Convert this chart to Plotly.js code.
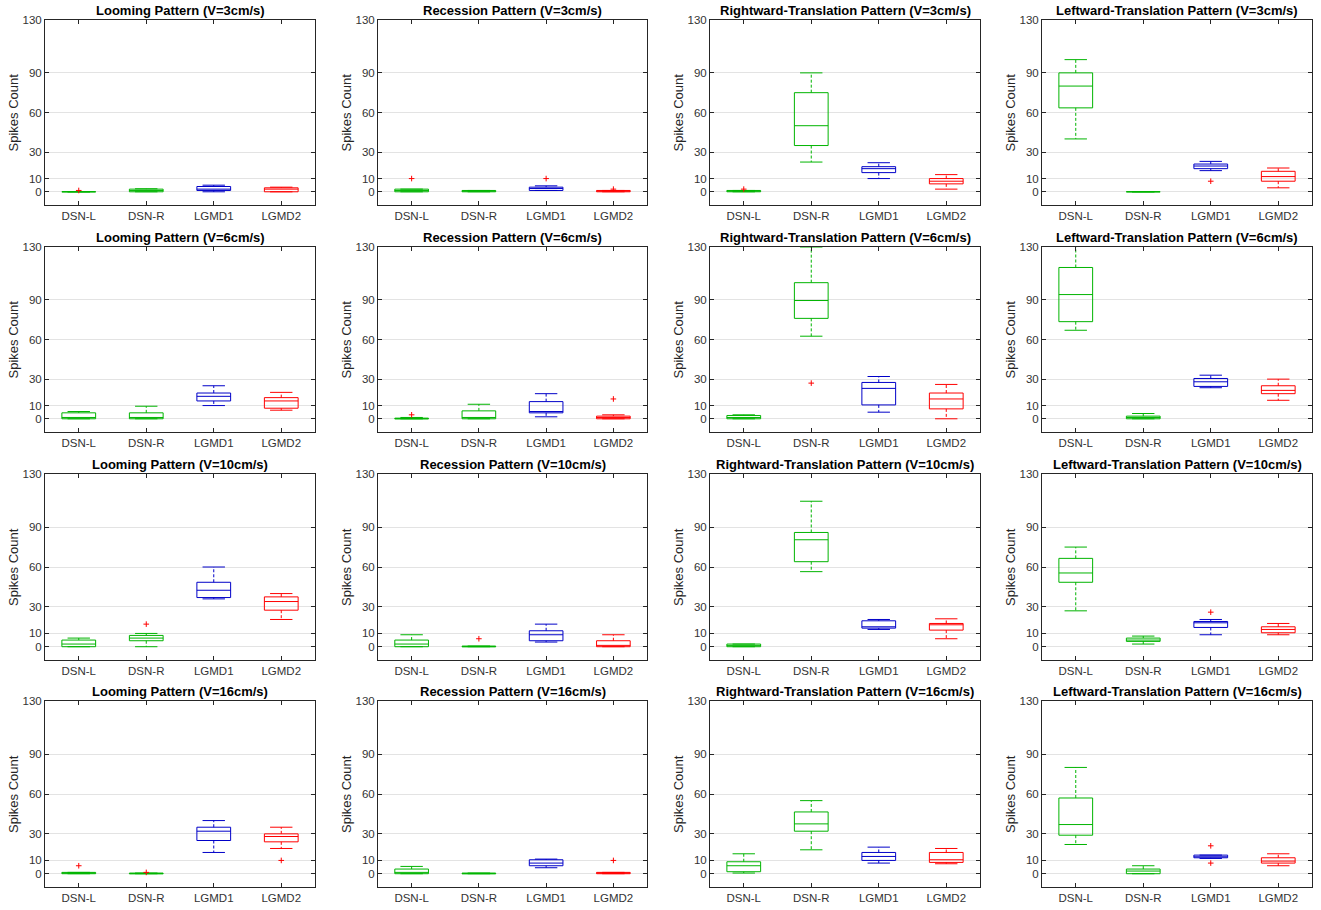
<!DOCTYPE html>
<html>
<head>
<meta charset="utf-8">
<script src="https://cdn.plot.ly/plotly-3.0.1.min.js"></script>
<style>html,body{margin:0;padding:0;background:#fff;}#chart{width:1321px;height:910px;}</style>
</head>
<body>
<div id="chart"></div>
<script>
// ---------------- DATA ----------------
const categories = ['DSN-L', 'DSN-R', 'LGMD1', 'LGMD2'];
const patterns = ['Looming', 'Recession', 'Rightward-Translation', 'Leftward-Translation'];
const speeds = [3, 6, 10, 16];
const yTicks = [0, 10, 30, 60, 90, 130];

// indexed [speed row][pattern column][category]
const lowerWhisker = [
  [[0,0,0,0],       [0,0,1,0],       [0,22.5,10,2],     [40,0,16,3]],
  [[0,0,10,6.5],    [0,0,1.5,0],     [0,62.5,5,0],      [67,0,23.5,14]],
  [[0,0,36,20.5],   [0,0,3.5,0],     [0,56.5,13,6],     [27,2,9,9]],
  [[0,0,16,19],     [0,0,4.5,0],     [0.5,18,8,7.5],    [22,0,11.5,6]]
];
const quartile1 = [
  [[0,0,1,0],       [0,0,1,0],       [0,35,14.5,6],     [63.5,0,17.5,8]],
  [[0,0,13.5,8],    [0,0,4.5,0],     [0,76,10.5,7.5],   [73.5,0,24.5,19]],
  [[0,4.5,37,27.5], [0,0,4.5,0],     [0,64,14,12.5],    [48.5,4,14.5,10.5]],
  [[0,0,25,24],     [0,0,6,0],       [1.5,32,10,8.5],   [29,0,12,8]]
];
const medians = [
  [[0,1,2,2],       [1,0.5,2.5,0.5], [0.5,50,17.5,8],   [80,0,19.5,11.5]],
  [[1,1,17,13.5],   [0,1,5.5,1],     [1,89.5,23,15],    [94,1,28,21.5]],
  [[2,6.5,42.5,34], [2,0,9,1],       [1,80.5,15,16.5],  [55.5,5,18,13]],
  [[0.5,0,32,28],   [1,0,8,0.5],     [6,37.5,13,10.5],  [37,2,12.5,9.5]]
];
const quartile3 = [
  [[0,2,4,3],       [2,1,3.5,1],     [1,75,19,10],      [90,0,21,15.5]],
  [[4.5,4.5,19.5,16],[0.5,6,13,2],   [2.5,103,27.5,19.5],[114.5,2,30.5,25]],
  [[5,8.5,48.5,37.5],[5,0.5,12,4.5], [2,86,19.5,17.5],  [66.5,6.5,19,15]],
  [[1,0.5,35,30],   [3.5,0.5,10.5,1],[9,46.5,16,16],    [57,3.5,14,12]]
];
const upperWhisker = [
  [[0,2.3,5,3.5],   [2,1,4.5,1],     [1,90,22,13],      [100,0,23,18]],
  [[5.5,9.5,25,20], [1,11,19,3],     [3,130,32,26],     [140,4,33,30]],
  [[6.5,10,60,40],  [9,0.5,17,9],    [2,109.5,20.5,21], [75,8,20.5,17.5]],
  [[1,0.5,40,35],   [5.5,0.5,11,1],  [15,55,20,19],     [80,6,14,15]]
];
const outliers = [
  [[[1],[],[],[]],     [[10],[],[10],[2]], [[2],[],[],[]],    [[],[],[8],[]]],
  [[[],[],[],[]],      [[3],[],[],[15]],   [[],[27],[],[]],   [[],[],[],[]]],
  [[[],[17],[],[]],    [[],[6],[],[]],     [[],[],[],[]],     [[],[],[26],[]]],
  [[[6],[1],[],[10]],  [[],[],[],[10]],    [[],[],[],[]],     [[],[],[21,8],[]]]
];

// ---------------- STYLE ----------------
const boxColors = ['#00b400', '#00b400', '#0000c8', '#ff0000'];
const outlierColor = '#ff0000';
const FONT = 'Liberation Sans, Arial, Helvetica, sans-serif';
const colDomains = [[45, 315], [378, 647], [710, 980], [1042, 1312]];
const rowDomains = [[20, 205], [247, 432], [474, 660], [701, 887]];
const W = 1321, H = 910;

const traces = [];
const layout = {
  width: W, height: H,
  margin: {l: 0, r: 0, t: 0, b: 0},
  paper_bgcolor: '#ffffff', plot_bgcolor: '#ffffff',
  showlegend: false,
  boxmode: 'overlay',
  font: {family: FONT, color: '#262626'},
  annotations: []
};

for (let r = 0; r < 4; r++) {
  for (let c = 0; c < 4; c++) {
    const idx = r * 4 + c + 1;
    const xa = 'x' + (idx === 1 ? '' : idx);
    const ya = 'y' + (idx === 1 ? '' : idx);
    const xd = [colDomains[c][0] / W, colDomains[c][1] / W];
    const yd = [1 - rowDomains[r][1] / H, 1 - rowDomains[r][0] / H];

    layout['xaxis' + (idx === 1 ? '' : idx)] = {
      domain: xd, anchor: ya, type: 'category',
      categoryorder: 'array', categoryarray: categories,
      range: [-0.5, 3.5],
      showgrid: false, zeroline: false,
      showline: true, linecolor: '#262626', linewidth: 1, mirror: 'ticks',
      ticks: 'inside', ticklen: 4, tickcolor: '#262626',
      tickfont: {family: FONT, size: 11.5, color: '#333333'},
      fixedrange: true
    };
    layout['yaxis' + (idx === 1 ? '' : idx)] = {
      domain: yd, anchor: xa,
      range: [-10, 130],
      tickvals: yTicks, ticktext: yTicks.map(String),
      showgrid: true, gridcolor: '#e3e3e3', gridwidth: 1,
      zeroline: false,
      showline: true, linecolor: '#262626', linewidth: 1, mirror: 'ticks',
      ticks: 'inside', ticklen: 4, tickcolor: '#262626',
      tickfont: {family: FONT, size: 11.5, color: '#333333'},
      fixedrange: true
    };

    layout.annotations.push({
      xref: 'paper', yref: 'paper',
      x: (xd[0] + xd[1]) / 2, y: yd[1],
      xanchor: 'center', yanchor: 'bottom', yshift: 0,
      showarrow: false,
      text: '<b>' + patterns[c] + ' Pattern (V=' + speeds[r] + 'cm/s)</b>',
      font: {family: FONT, size: 13, color: '#000000'}
    });
    layout.annotations.push({
      xref: 'paper', yref: 'paper',
      x: xd[0], y: (yd[0] + yd[1]) / 2,
      xanchor: 'center', yanchor: 'middle', xshift: -32,
      textangle: -90, showarrow: false,
      text: 'Spikes Count',
      font: {family: FONT, size: 13, color: '#262626'}
    });

    for (let k = 0; k < 4; k++) {
      const cat = categories[k];
      const col = boxColors[k];
      const lo = lowerWhisker[r][c][k], q1 = quartile1[r][c][k], md = medians[r][c][k],
            q3 = quartile3[r][c][k], hi = upperWhisker[r][c][k];
      // dashed whiskers
      traces.push({
        type: 'scatter', mode: 'lines', xaxis: xa, yaxis: ya,
        x: [cat, cat, null, cat, cat], y: [q3, hi, null, q1, lo],
        line: {color: col, width: 1, dash: '3px,2px'},
        hoverinfo: 'skip', showlegend: false
      });
      // box + median
      traces.push({
        type: 'box', xaxis: xa, yaxis: ya,
        x: [cat], q1: [q1], median: [md], q3: [q3],
        lowerfence: [q1], upperfence: [q3],
        width: 0.5, whiskerwidth: 0,
        line: {color: col, width: 1},
        fillcolor: 'rgba(0,0,0,0)',
        boxpoints: false, hoverinfo: 'skip', showlegend: false
      });
      // whisker caps
      traces.push({
        type: 'scatter', mode: 'markers', xaxis: xa, yaxis: ya,
        x: [cat, cat], y: [hi, lo],
        marker: {symbol: 'line-ew', size: 16, color: col, line: {color: col, width: 1}},
        hoverinfo: 'skip', showlegend: false
      });
      // outliers
      const out = outliers[r][c][k];
      if (out.length) {
        traces.push({
          type: 'scatter', mode: 'markers', xaxis: xa, yaxis: ya,
          x: out.map(() => cat), y: out,
          marker: {symbol: 'cross-thin', size: 4, color: outlierColor, line: {color: outlierColor, width: 1}},
          hoverinfo: 'skip', showlegend: false
        });
      }
    }
  }
}

Plotly.newPlot('chart', traces, layout, {displayModeBar: false, staticPlot: true});
</script>
</body>
</html>
